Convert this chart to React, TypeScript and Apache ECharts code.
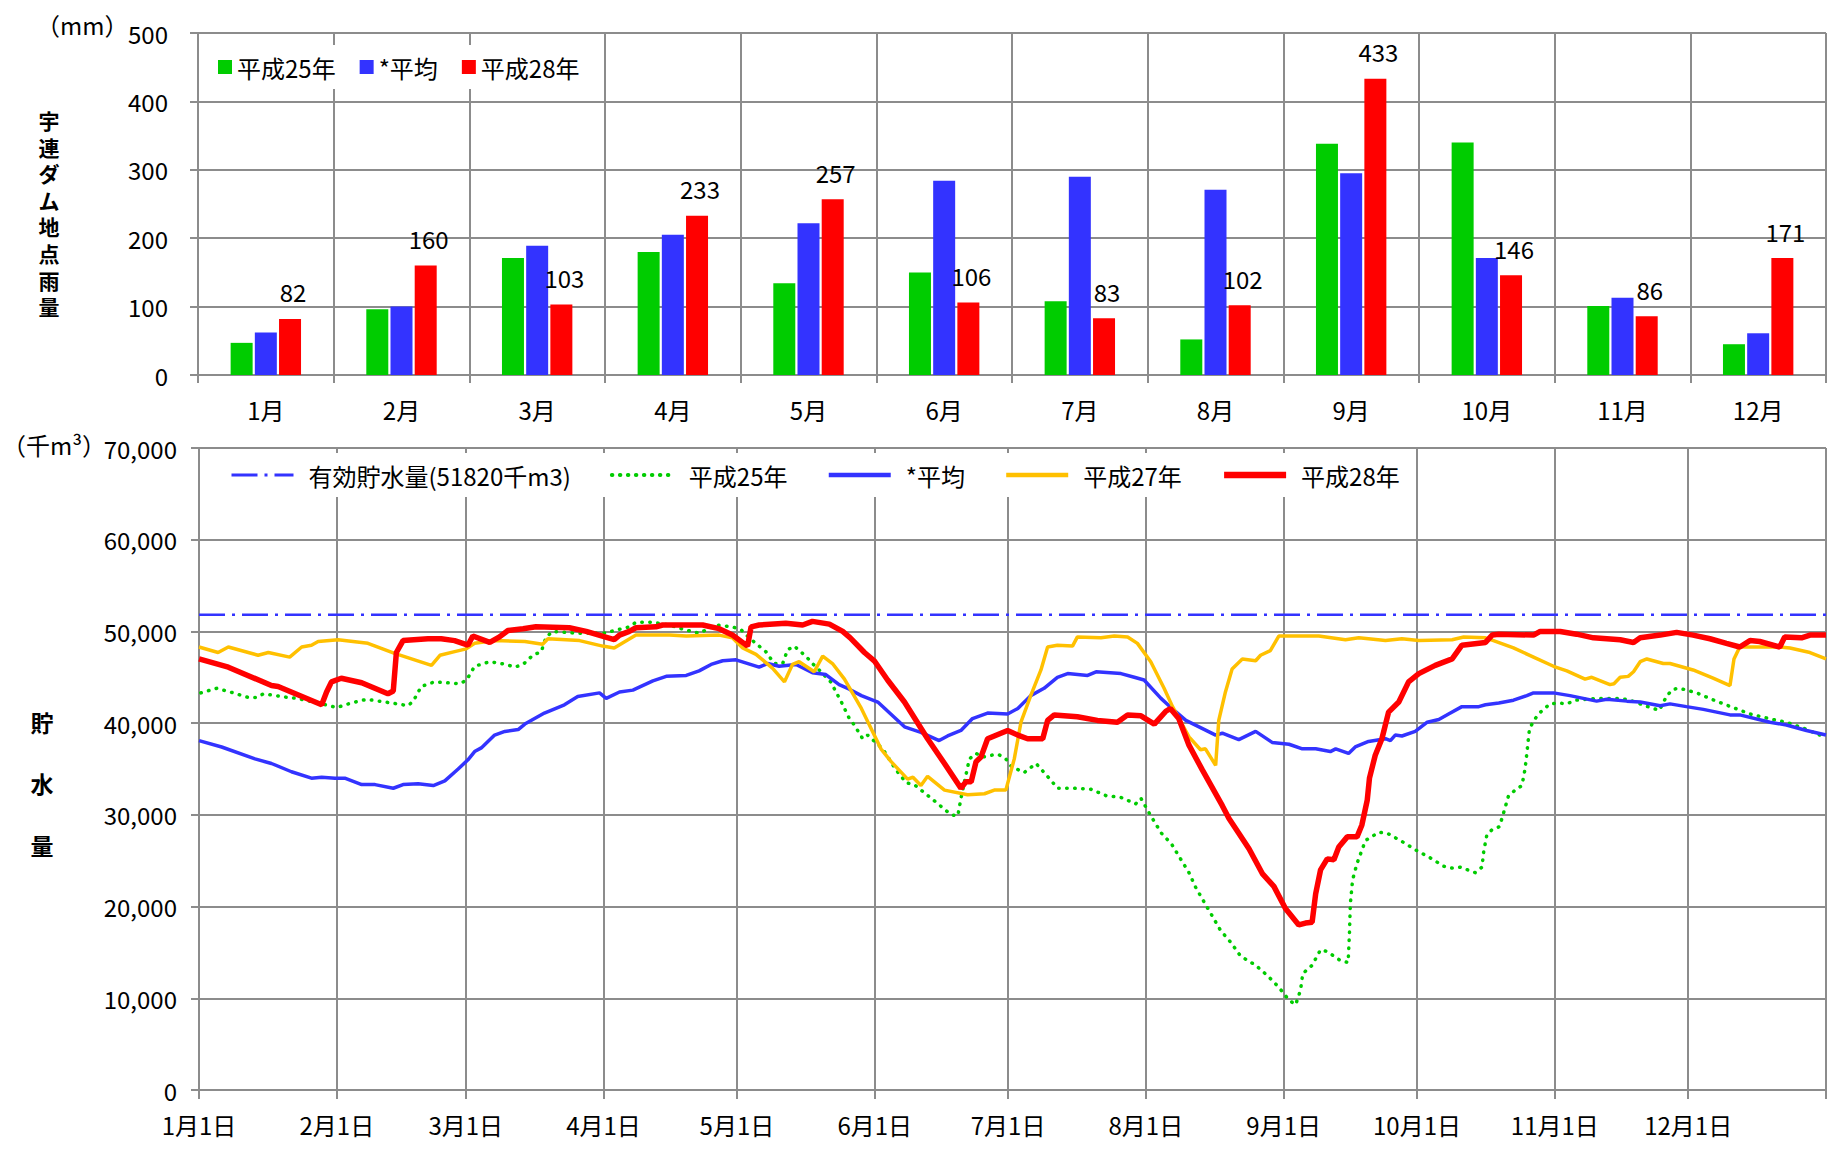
import React, { useEffect, useRef } from "react";
import * as echarts from "echarts";

// ---------- Top chart: monthly rainfall at 宇連ダム (mm) ----------
const months = ["1月", "2月", "3月", "4月", "5月", "6月", "7月", "8月", "9月", "10月", "11月", "12月"];
const rainH25 = [47, 96, 171, 180, 134, 150, 108, 52, 338, 340, 101, 45];
const rainAvg = [62, 100, 189, 205, 222, 284, 290, 271, 295, 171, 113, 61];
const rainH28 = [82, 160, 103, 233, 257, 106, 83, 102, 433, 146, 86, 171];

// ---------- Bottom chart: storage (千m3), [day of year, value] ----------
const monthLengths = [31, 29, 31, 30, 31, 30, 31, 31, 30, 31, 30, 31];
const effectiveCapacity = 51820;

const storageH25: [number, number][] = [
  [0.4, 43300], [4, 43800], [7.7, 43300], [11.1, 42800], [13, 42800], [14.5, 43200], [20, 42800], [22, 42700],
  [27.6, 42100], [31, 41700], [34.3, 42200], [37.7, 42600], [43.3, 42200], [47, 41900], [48.2, 42400], [50, 44000],
  [53, 44500], [58.7, 44300], [60.2, 44700], [62, 46200], [65.4, 46700], [69.1, 46400], [71, 46100], [72.9, 46400],
  [75.1, 47400], [77, 47800], [78.1, 49400], [79.6, 50000], [85.2, 49800], [91, 49800], [96.8, 50500], [98.3, 51000],
  [102, 51000], [105.8, 50700], [109.2, 50200], [112.5, 49800], [116.3, 50700], [120, 50500], [121.9, 50200],
  [123.8, 49300], [126, 48400], [127.5, 47800], [129.4, 46500], [131.3, 46500], [132.4, 48000], [133.9, 48400],
  [136.5, 47300], [138, 46500], [139.5, 45800], [142.1, 44500], [144.4, 42400], [146.3, 40500], [147.4, 39800],
  [149.3, 38300], [150.4, 38700], [153.8, 37200], [156.8, 34900], [159.1, 33500], [160.9, 33300], [163.2, 32400],
  [166.5, 31100], [169.2, 30000], [170.7, 29900], [171.4, 31800], [173.3, 36100], [174.8, 36700], [176.3, 36300],
  [178.2, 36500], [179.8, 36600], [181.5, 36100], [182.7, 35300], [185.6, 34600], [188.3, 35600], [191.6, 33800],
  [193.1, 32900], [196.9, 32900], [200.6, 32800], [204, 32100], [207.4, 31900], [210.7, 31200], [211.9, 31800],
  [214.1, 29900], [216.5, 28000], [218.8, 26800], [220.8, 25200], [222.7, 23700], [224.2, 22100], [226.1, 20500],
  [227.9, 19000], [229.8, 17400], [232.1, 16100], [234.3, 14600], [237.7, 13600], [240.3, 12500], [242.9, 11200],
  [245.2, 9800], [246.7, 9300], [247.8, 10900], [248.3, 12700], [250.4, 13600], [252.3, 15300], [253.8, 15100],
  [256.8, 14100], [258.5, 13900], [258.8, 17100], [259, 20300], [259.5, 22900], [260.5, 24700], [262.4, 27200],
  [265.4, 28100], [267.3, 28000], [270.6, 27100], [273.6, 26200], [277, 25300], [280, 24400], [281.9, 24200],
  [283.7, 24300], [287.1, 23700], [288.6, 24300], [289, 26000], [289.7, 27800], [290.9, 28400], [292.5, 28700],
  [293.1, 29600], [294.6, 32100], [296.1, 32700], [297.6, 33200], [298.3, 35000], [298.7, 36700], [299.3, 39400],
  [300.2, 40200], [301.3, 41000], [303.9, 42100], [305.8, 42200], [307.7, 42100], [309.6, 42500], [314.4, 42700],
  [319.7, 42700], [321.9, 42500], [325.3, 41900], [328.5, 41400], [330.2, 43000], [331.6, 43700], [333.1, 43800],
  [336.9, 43300], [340.3, 42600], [344, 41900], [348.9, 41000], [354, 40400], [357.1, 40100], [361.2, 39400],
  [364.6, 38700],
];

const storageAvg: [number, number][] = [
  [0, 38100], [5.1, 37400], [12.6, 36100], [16.3, 35600], [20.8, 34700], [25.3, 34000], [27.6, 34100], [30.6, 34000],
  [32.8, 34000], [36.6, 33300], [39.6, 33300], [43.7, 32900], [45.9, 33300], [49.3, 33400], [52.7, 33200],
  [55.3, 33700], [58.3, 35000], [60.5, 36000], [62, 36900], [63.5, 37300], [66.5, 38700], [68.8, 39100],
  [71.8, 39300], [73.3, 39900], [77.7, 41100], [82.2, 42000], [85.2, 42900], [90.1, 43300], [91.6, 42700],
  [94.6, 43400], [97.6, 43600], [102.1, 44600], [105.1, 45100], [109.6, 45200], [112.5, 45700], [115.2, 46400],
  [117.8, 46800], [120.8, 46900], [126, 46100], [127.9, 46500], [130.5, 46200], [134.3, 46400], [138, 45500],
  [141, 45300], [144, 44200], [146.3, 43700], [149, 43000], [152.7, 42300], [158.7, 39600], [162.4, 39000],
  [166.5, 38100], [168.4, 38600], [171.4, 39200], [174, 40500], [177.4, 41100], [181.9, 41000], [184.2, 41600],
  [187.1, 43000], [190.1, 43800], [193.1, 45000], [195.4, 45400], [199.9, 45200], [201.8, 45600], [207.4, 45400],
  [210.4, 45000], [212.6, 44700], [216.4, 42700], [218.2, 41900], [222, 40300], [228.7, 38700], [230.2, 38900],
  [233.9, 38200], [237.7, 39100], [241.4, 37900], [245.2, 37700], [248.2, 37200], [251.2, 37200], [254.5, 36900],
  [255.7, 37200], [258.6, 36700], [260.1, 37400], [263.1, 38000], [266.9, 38300], [268, 38100], [269.1, 38700],
  [270.6, 38600], [273.6, 39100], [276.3, 40100], [278.9, 40400], [281.1, 41000], [284.1, 41800], [287.9, 41800],
  [289.4, 42000], [292.4, 42200], [295.7, 42500], [298.7, 43000], [300.2, 43300], [304.7, 43300], [308.4, 43000],
  [311.4, 42700], [314.4, 42400], [316.7, 42600], [321.2, 42400], [324.2, 42300], [328.7, 41900], [330.9, 42100],
  [334.6, 41800], [338.4, 41500], [344.4, 40900], [346.6, 40900], [353.4, 40100], [357.1, 39800], [361.6, 39200],
  [366, 38700],
];

const storageH27: [number, number][] = [
  [0, 48300], [4.3, 47700], [6.6, 48300], [13.3, 47400], [15.6, 47700], [20.4, 47200], [23.1, 48300], [25.3, 48500],
  [26.8, 48900], [31.3, 49100], [38, 48700], [44, 47600], [52.3, 46300], [54.2, 47400], [57.5, 47800], [60.1, 48100],
  [62, 48700], [66.5, 49000], [73.3, 48900], [77.3, 48600], [78.5, 49200], [85.6, 49000], [90.8, 48400],
  [93.4, 48200], [98.3, 49600], [105.8, 49600], [109.6, 49500], [117, 49600], [120, 49300], [122.3, 48200],
  [125.3, 47500], [129, 46000], [131.7, 44500], [133.5, 46400], [135, 46700], [138.4, 45600], [140.3, 47300],
  [142.5, 46500], [145.2, 44800], [149, 41600], [153.4, 37200], [155.7, 35800], [159.4, 33900], [160.6, 34100],
  [162.4, 33200], [163.9, 34200], [167.7, 32700], [172.9, 32200], [176.7, 32300], [178.9, 32700], [181.5, 32700],
  [183.4, 36100], [184.9, 40100], [187.1, 43000], [189.4, 45800], [190.9, 48300], [193.1, 48500], [196.5, 48400],
  [197.6, 49400], [202.9, 49300], [205.9, 49500], [208.9, 49400], [211.1, 48700], [214.1, 46700], [217.1, 43800],
  [219, 41800], [222.7, 38500], [225.3, 37100], [226.4, 37200], [228.7, 35400], [229.4, 40300], [230.9, 43400],
  [232.4, 45900], [234.7, 47000], [237.7, 46800], [238.8, 47400], [241, 47900], [242.9, 49500], [248.2, 49500],
  [251.9, 49500], [257.9, 49100], [260.9, 49300], [266.9, 49000], [270.6, 49200], [274.4, 49000], [281.9, 49100],
  [284.5, 49400], [289.4, 49300], [291.2, 49000], [295.7, 48200], [300.2, 47200], [304.7, 46200], [307.7, 45700],
  [311.8, 44800], [313.3, 45000], [317.4, 44200], [318.3, 44300], [319.7, 45000], [321.5, 45100], [322.7, 45600],
  [324.2, 46700], [325.7, 47000], [329.4, 46500], [330.9, 46500], [336.1, 45800], [340.6, 44900], [344.4, 44100],
  [345.3, 47000], [346.6, 48300], [355.6, 48300], [357.9, 48200], [362.4, 47700], [366, 47000],
];

const storageH28: [number, number][] = [
  [0, 47000], [6.6, 46100], [16.3, 44100], [17.8, 44000], [27.6, 42000], [28.7, 43400], [29.8, 44500], [32, 44900],
  [36.6, 44400], [42.5, 43200], [43.7, 43500], [44.4, 47700], [45.9, 49000], [51.5, 49200], [54.5, 49200],
  [57.5, 49000], [60.5, 48500], [61.6, 49500], [65.4, 48800], [67.6, 49400], [69.5, 50100], [72.9, 50300],
  [75.8, 50500], [83.3, 50400], [87.1, 50000], [93.4, 49100], [94.6, 49600], [96.8, 50000], [98.3, 50400],
  [102.8, 50500], [104.3, 50700], [109.6, 50700], [113.3, 50700], [117, 50300], [120, 49600], [123.4, 48400],
  [124.2, 50500], [126, 50700], [132, 50900], [135.8, 50700], [138, 51100], [141.8, 50800], [144.8, 50000],
  [146.5, 49300], [149.7, 47700], [151.9, 46800], [154.9, 44700], [158.7, 42300], [163.9, 38300], [167.7, 35600],
  [171.4, 32900], [172.5, 33600], [173.7, 33600], [174.8, 35800], [175.9, 36300], [177.4, 38300], [178.9, 38600],
  [181.9, 39200], [184.2, 38700], [186.4, 38300], [189.8, 38300], [190.9, 40300], [192.4, 40900], [197.6, 40700],
  [202.1, 40300], [206.6, 40100], [208.9, 40900], [211.9, 40800], [214.9, 39900], [217.5, 41300], [218.5, 41600],
  [220.4, 40500], [222.7, 37600], [225.7, 34900], [230.2, 31000], [231.7, 29600], [233.9, 28000], [236.2, 26300],
  [239.2, 23600], [241.8, 22200], [244.4, 19800], [247.4, 18000], [248.9, 18200], [250.4, 18300], [251.2, 21400],
  [252.3, 24000], [253.8, 25200], [255.3, 25100], [256.4, 26500], [258.3, 27600], [260.5, 27600], [261.6, 28900],
  [262.8, 31600], [263.3, 34000], [264.6, 36500], [266.1, 38300], [267.6, 41200], [269.9, 42300], [272.1, 44500],
  [274.4, 45400], [278.1, 46300], [281.9, 47000], [284.1, 48500], [289.4, 48800], [290.9, 49600], [292.4, 49700],
  [300.2, 49600], [301.7, 50000], [306.2, 50000], [309.9, 49700], [313.7, 49300], [319.7, 49100], [322.7, 48800],
  [324.2, 49300], [328.7, 49600], [332.4, 49900], [336.1, 49600], [339.9, 49200], [343.6, 48700], [346.6, 48300],
  [348.9, 49000], [351.1, 48900], [355.6, 48300], [356.7, 49400], [360.5, 49300], [362.4, 49600], [366, 49600],
];

// ---------- derived ----------
const dayLabels: string[] = [];
monthLengths.forEach((len, m) => {
  for (let d = 1; d <= len; d++) dayLabels.push(`${m + 1}月${d}日`);
});
dayLabels.push("1月1日"); // end boundary (next year)

const FONT = "'Noto Sans CJK JP', 'Noto Sans', sans-serif";
const GRID_COLOR = "#8c8c8c";
const GREEN = "#00cc00";
const BLUE = "#3333ff";
const RED = "#ff0000";
const ORANGE = "#ffc000";

const isMonthStart = (v: string) => /月1日$/.test(v);

const capStyle = { color: BLUE, width: 2.5, type: [26, 7, 3, 7] };
const h25Style = { color: GREEN, width: 3.5, type: [0.5, 7.5], cap: "round" };
const avgStyle = { color: BLUE, width: 3.5 };
const h27Style = { color: ORANGE, width: 3.5 };
const h28Style = { color: RED, width: 5.5 };

function buildOption(): any {
  const gridLine = { show: true, lineStyle: { color: GRID_COLOR, width: 2 } };
  return {
    animation: false,
    backgroundColor: "#fff",
    textStyle: { fontFamily: FONT, color: "#000" },
    grid: [
      { left: 198, top: 33, width: 1628, height: 342, outerBoundsMode: "none" },
      { left: 199, top: 448, width: 1627, height: 642, outerBoundsMode: "none" },
    ],
    legend: [
      {
        left: 204,
        top: 45,
        orient: "horizontal",
        backgroundColor: "#fff",
        padding: [10, 12, 10, 14],
        itemWidth: 14,
        itemHeight: 14,
        itemGap: 24,
        icon: "rect",
        selectedMode: false,
        textStyle: { fontSize: 24, color: "#000", fontFamily: FONT },
        data: ["平成25年", "*平均", "平成28年"],
      },
      {
        left: 213,
        top: 453,
        orient: "horizontal",
        backgroundColor: "#fff",
        padding: [10, 14, 10, 17],
        itemWidth: 62,
        itemHeight: 14,
        itemGap: 39,
        selectedMode: false,
        itemStyle: { opacity: 0 },
        textStyle: { fontSize: 24, color: "#000", fontFamily: FONT, padding: [0, 0, 0, 10] },
        formatter: (n: string) => n.replace(/^line:/, ""),
        data: [
          { name: "有効貯水量(51820千m3)", lineStyle: { ...capStyle, width: 3 } },
          { name: "line:平成25年", lineStyle: { ...h25Style, width: 4 } },
          { name: "line:*平均", lineStyle: { ...avgStyle, width: 4.5 } },
          { name: "line:平成27年", lineStyle: { ...h27Style, width: 4.5 } },
          { name: "line:平成28年", lineStyle: { ...h28Style, width: 6.5 } },
        ],
      },
    ],
    xAxis: [
      {
        type: "category",
        gridIndex: 0,
        data: months,
        boundaryGap: true,
        axisLine: { show: true, lineStyle: { color: GRID_COLOR, width: 2 } },
        axisTick: { show: true, length: 8, lineStyle: { color: GRID_COLOR, width: 2 } },
        axisLabel: { fontSize: 24, color: "#000", margin: 22, fontFamily: FONT },
        splitLine: gridLine,
      },
      {
        type: "value",
        gridIndex: 1,
        min: 0,
        max: 366,
        show: false,
        splitLine: { show: false },
      },
      {
        type: "category",
        gridIndex: 1,
        position: "bottom",
        data: dayLabels,
        boundaryGap: false,
        axisLine: { show: true, lineStyle: { color: GRID_COLOR, width: 2 } },
        axisTick: {
          show: true,
          length: 9,
          interval: (_i: number, v: string) => isMonthStart(v),
          lineStyle: { color: GRID_COLOR, width: 2 },
        },
        axisLabel: {
          fontSize: 24,
          color: "#000",
          margin: 22,
          fontFamily: FONT,
          interval: (i: number, v: string) => i < dayLabels.length - 1 && isMonthStart(v),
        },
        splitLine: {
          show: true,
          interval: (_i: number, v: string) => isMonthStart(v),
          lineStyle: { color: GRID_COLOR, width: 2 },
        },
      },
    ],
    yAxis: [
      {
        type: "value",
        gridIndex: 0,
        min: 0,
        max: 500,
        interval: 100,
        axisLine: { show: true, lineStyle: { color: GRID_COLOR, width: 2 } },
        axisTick: { show: true, length: 8, lineStyle: { color: GRID_COLOR, width: 2 } },
        axisLabel: { fontSize: 24, color: "#000", margin: 30, fontFamily: FONT },
        splitLine: gridLine,
      },
      {
        type: "value",
        gridIndex: 1,
        min: 0,
        max: 70000,
        interval: 10000,
        axisLine: { show: true, lineStyle: { color: GRID_COLOR, width: 2 } },
        axisTick: { show: true, length: 8, lineStyle: { color: GRID_COLOR, width: 2 } },
        axisLabel: {
          fontSize: 24,
          color: "#000",
          margin: 22,
          fontFamily: FONT,
          formatter: (v: number) => v.toLocaleString("en-US"),
        },
        splitLine: gridLine,
      },
    ],
    series: [
      {
        name: "平成25年",
        type: "bar",
        xAxisIndex: 0,
        yAxisIndex: 0,
        data: rainH25,
        barWidth: 22,
        barGap: "10%",
        itemStyle: { color: GREEN },
      },
      {
        name: "*平均",
        type: "bar",
        xAxisIndex: 0,
        yAxisIndex: 0,
        data: rainAvg,
        barWidth: 22,
        barGap: "10%",
        itemStyle: { color: BLUE },
      },
      {
        name: "平成28年",
        type: "bar",
        xAxisIndex: 0,
        yAxisIndex: 0,
        data: rainH28,
        barWidth: 22,
        barGap: "10%",
        itemStyle: { color: RED },
        label: {
          show: true,
          position: "top",
          distance: 15,
          offset: [3, 0],
          fontSize: 24,
          lineHeight: 24,
          color: "#000",
          fontFamily: FONT,
        },
      },
      {
        name: "有効貯水量(51820千m3)",
        type: "line",
        xAxisIndex: 1,
        yAxisIndex: 1,
        data: [[0, effectiveCapacity], [366, effectiveCapacity]],
        symbol: "none",
        showSymbol: false,
        lineStyle: capStyle,
        itemStyle: { color: BLUE },
        z: 2,
      },
      {
        name: "line:平成25年",
        type: "line",
        xAxisIndex: 1,
        yAxisIndex: 1,
        data: storageH25,
        symbol: "none",
        showSymbol: false,
        lineStyle: h25Style,
        itemStyle: { color: GREEN },
        z: 3,
      },
      {
        name: "line:*平均",
        type: "line",
        xAxisIndex: 1,
        yAxisIndex: 1,
        data: storageAvg,
        symbol: "none",
        showSymbol: false,
        lineStyle: avgStyle,
        itemStyle: { color: BLUE },
        z: 4,
      },
      {
        name: "line:平成27年",
        type: "line",
        xAxisIndex: 1,
        yAxisIndex: 1,
        data: storageH27,
        symbol: "none",
        showSymbol: false,
        lineStyle: h27Style,
        itemStyle: { color: ORANGE },
        z: 5,
      },
      {
        name: "line:平成28年",
        type: "line",
        xAxisIndex: 1,
        yAxisIndex: 1,
        data: storageH28,
        symbol: "none",
        showSymbol: false,
        lineStyle: h28Style,
        itemStyle: { color: RED },
        z: 6,
      },
    ],
    graphic: [
      {
        type: "text",
        left: 36,
        top: 12,
        style: { text: "（mm）", fontSize: 24, fill: "#000", fontFamily: FONT },
      },
      {
        type: "text",
        left: 2,
        top: 432,
        style: { text: "（千m³）", fontSize: 24, fill: "#000", fontFamily: FONT },
      },
      {
        type: "text",
        x: 49,
        y: 213,
        style: {
          text: "宇\n連\nダ\nム\n地\n点\n雨\n量",
          fontSize: 21,
          fontWeight: "bold",
          lineHeight: 26.6,
          align: "center",
          verticalAlign: "middle",
          fill: "#000",
          fontFamily: FONT,
        },
      },
      {
        type: "text",
        x: 42,
        y: 783,
        style: {
          text: "貯\n水\n量",
          fontSize: 23,
          fontWeight: "bold",
          lineHeight: 61.5,
          align: "center",
          verticalAlign: "middle",
          fill: "#000",
          fontFamily: FONT,
        },
      },
    ],
  };
}

export default function App() {
  const ref = useRef<HTMLDivElement>(null);
  useEffect(() => {
    document.body.style.margin = "0";
    const chart = echarts.init(ref.current!, undefined, { renderer: "svg" });
    chart.setOption(buildOption());
    return () => chart.dispose();
  }, []);
  return <div ref={ref} style={{ width: 1830, height: 1153, background: "#fff" }} />;
}
